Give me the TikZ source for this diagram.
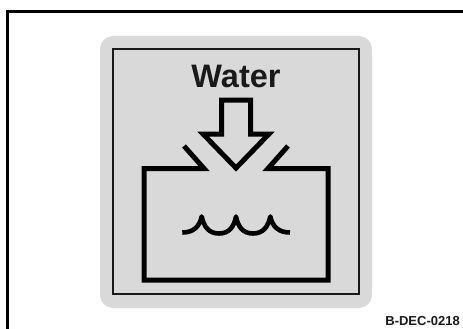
\documentclass[tikz,border=0pt]{standalone}
\usepackage{fontspec}
\setmainfont{Liberation Sans}
\definecolor{plateGrey}{HTML}{D9D9D9}
\definecolor{inkBlack}{HTML}{1A1A1A}
\tikzset{
  frameline/.style = {black, line width=2.8pt},
  plate/.style     = {fill=plateGrey, rounded corners=13pt},
  plateline/.style = {inkBlack, line width=1.5pt},
  symbol/.style    = {black, line width=5pt, miter limit=10},
  wave/.style      = {black, line width=4.6pt, line join=round},
  title/.style     = {font=\fontsize{32.5}{36}\bfseries, text=inkBlack, inner sep=0pt, anchor=base},
  codelbl/.style   = {font=\fontsize{13}{15}\bfseries, text=inkBlack, inner sep=0pt, anchor=base east},
}

\begin{document}
\begin{tikzpicture}[x=1pt, y=-1pt]
  \useasboundingbox (0,0) rectangle (463,329);

  % outer frame, open at the bottom
  \draw[frameline] (7.5,329) -- (7.5,11.5) -- (463,11.5);

  % grey plate
  \fill[plate] (100,36) rectangle (372,308);
  \draw[plateline] (113,49) rectangle (359,294);

  \node[title] (water) at (236,87) {Water};

  % arrow
  \draw[symbol] (221.5,100) -- (250.5,100) -- (250.5,134) -- (269,134)
    -- (236,168) -- (203,134) -- (221.5,134) -- cycle;

  % tank
  \draw[symbol] (184,146) -- (204,168.5) -- (144,168.5) -- (144,280)
    -- (328,280) -- (328,168.5) -- (268,168.5) -- (288,146);

  % waves
  \draw[wave] (182.3,232.5)
    .. controls (193,232.5) and (199.5,227) .. (201.7,216.5)
    .. controls (204,227) and (209,233.5) .. (219,233.5)
    .. controls (229,233.5) and (234,227) .. (236,216.5)
    .. controls (238,227) and (243,233.5) .. (253,233.5)
    .. controls (263,233.5) and (268,227) .. (270.3,216.5)
    .. controls (272.5,227) and (279,232.5) .. (290,232.5);

  \node[codelbl] (code) at (460,325.5) {B-DEC-0218};
\end{tikzpicture}
\end{document}
